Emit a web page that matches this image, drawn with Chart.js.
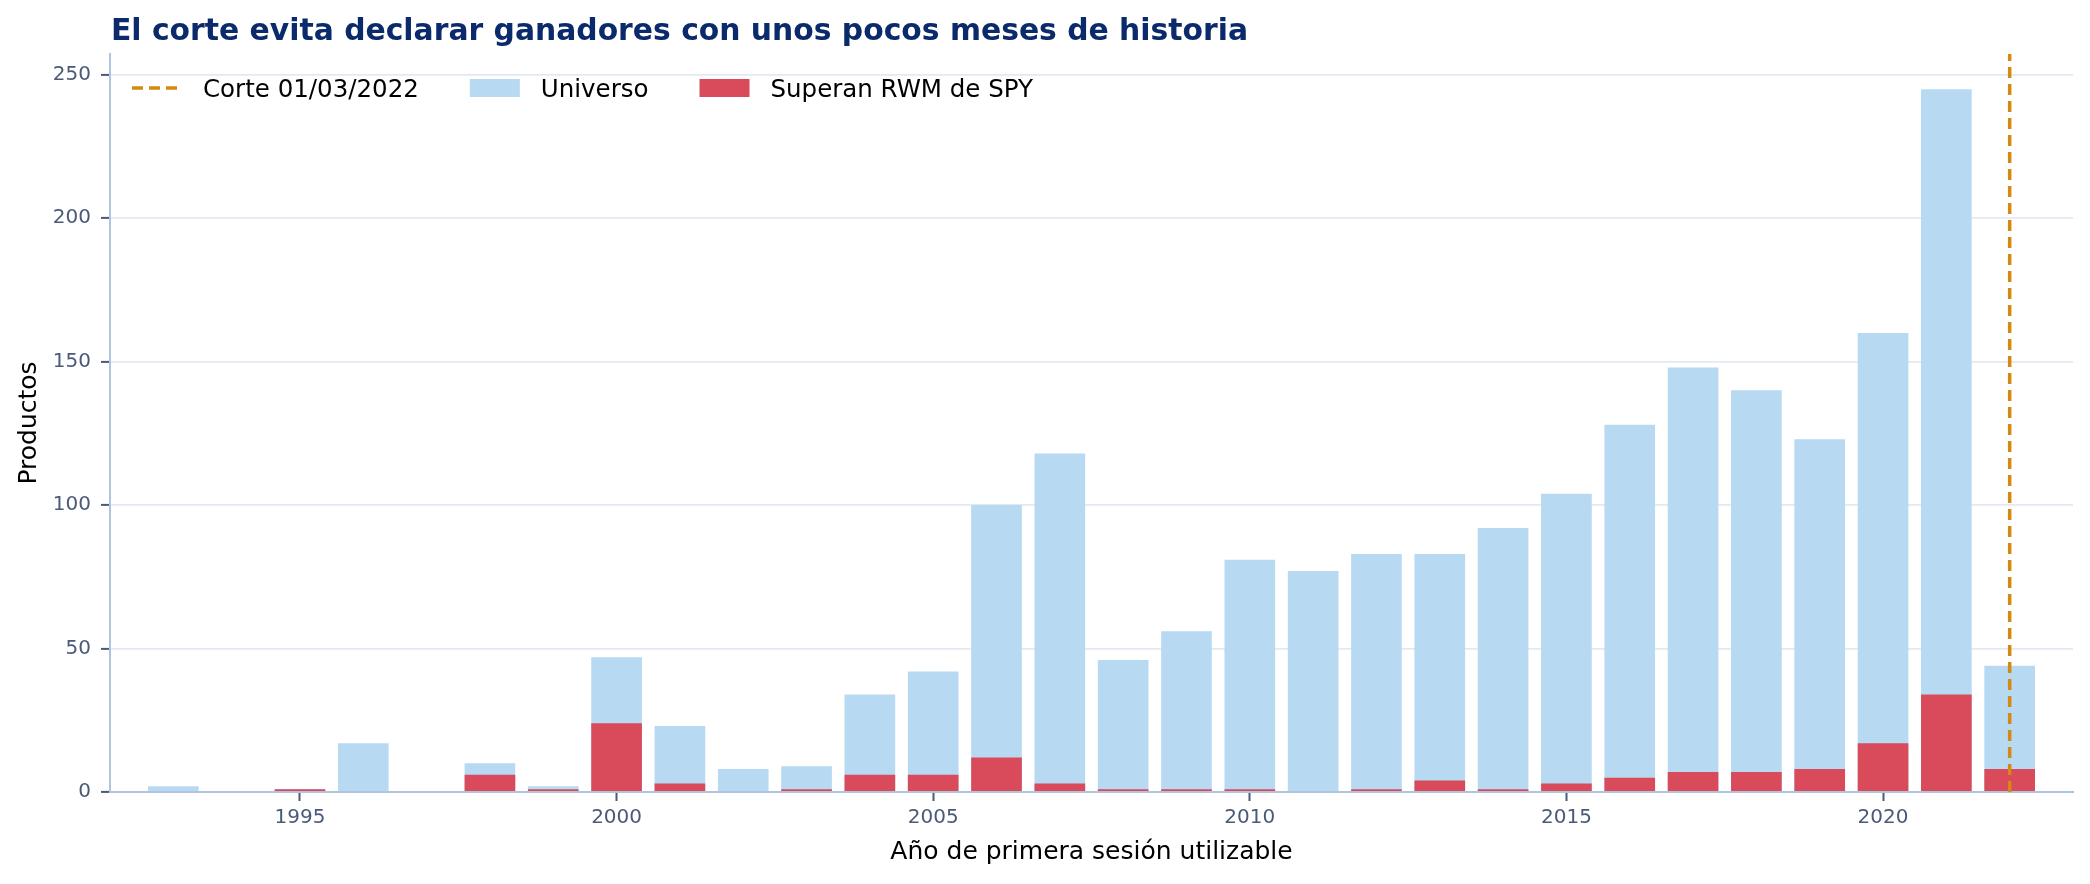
<!DOCTYPE html>
<html>
<head>
<meta charset="utf-8">
<script src="https://cdn.jsdelivr.net/npm/chart.js@4.4.1/dist/chart.umd.min.js"></script>
<style>
  html, body { margin: 0; padding: 0; background: #fff; }
  canvas { display: block; }
</style>
</head>
<body>
<canvas id="productosChart" width="2090" height="884"></canvas>
<script>
// values
const years = [1993, 1994, 1995, 1996, 1997, 1998, 1999, 2000, 2001, 2002,
               2003, 2004, 2005, 2006, 2007, 2008, 2009, 2010, 2011, 2012,
               2013, 2014, 2015, 2016, 2017, 2018, 2019, 2020, 2021, 2022];
const universo = [2, 0, 1, 17, 0, 10, 2, 47, 23, 8,
                  9, 34, 42, 100, 118, 46, 56, 81, 77, 83,
                  83, 92, 104, 128, 148, 140, 123, 160, 245, 44];
const superan = [0, 0, 1, 0, 0, 6, 1, 24, 3, 0,
                 1, 6, 6, 12, 3, 1, 1, 1, 0, 1,
                 4, 1, 3, 5, 7, 7, 8, 17, 34, 8];
const xTicks = [1995, 2000, 2005, 2010, 2015, 2020];
const yTicks = [0, 50, 100, 150, 200, 250];
const cutoffYear = 2022;
const xMin = 1992, xMax = 2023, yMax = 257.25;

const FONT = '"DejaVu Sans", "Noto Sans", sans-serif';
const TICK_COLOR = '#4a5a78';
const BLUE = '#b7d9f2';
const RED = '#d94a5b';
const ORANGE = '#d68910';

const titlePlugin = {
    id: 'leftTitle',
    afterDraw(chart) {
        const ctx = chart.ctx;
        ctx.save();
        ctx.font = 'bold 29.8px ' + FONT;
        ctx.fillStyle = '#0b2a6b';
        ctx.textAlign = 'left';
        ctx.textBaseline = 'alphabetic';
        ctx.fillText('El corte evita declarar ganadores con unos pocos meses de historia', chart.chartArea.left + 1, 40);
        ctx.restore();
    }
};

// legend drawn by hand so the handle / text spacing matches the picture
const legendPlugin = {
    id: 'plainLegend',
    afterDraw(chart) {
        const ctx = chart.ctx;
        const area = chart.chartArea;
        const items = [
            { text: 'Corte 01/03/2022', kind: 'line', color: ORANGE },
            { text: 'Universo', kind: 'box', color: BLUE },
            { text: 'Superan RWM de SPY', kind: 'box', color: RED }
        ];
        let x = area.left + 22;
        const yc = area.top + 34;
        ctx.save();
        ctx.font = '24.5px ' + FONT;
        ctx.textBaseline = 'alphabetic';
        items.forEach(item => {
            if (item.kind === 'line') {
                ctx.strokeStyle = item.color;
                ctx.lineWidth = 3.5;
                ctx.setLineDash([11, 6]);
                ctx.beginPath();
                ctx.moveTo(x, yc);
                ctx.lineTo(x + 50, yc);
                ctx.stroke();
                ctx.setLineDash([]);
            } else {
                ctx.fillStyle = item.color;
                ctx.fillRect(x, yc - 9, 50, 18);
            }
            ctx.fillStyle = '#000';
            ctx.fillText(item.text, x + 71, yc + 9);
            x += 71 + ctx.measureText(item.text).width + 51;
        });
        ctx.restore();
    }
};

const ctx = document.getElementById('productosChart').getContext('2d');

new Chart(ctx, {
    type: 'bar',
    data: {
        datasets: [
            {
                type: 'line',
                label: 'Corte 01/03/2022',
                data: [{ x: cutoffYear, y: 0 }, { x: cutoffYear, y: yMax }],
                borderColor: ORANGE,
                borderWidth: 3.5,
                borderDash: [11, 6],
                pointRadius: 0,
                fill: false,
                order: 0
            },
            {
                label: 'Universo',
                data: years.map((y, i) => ({ x: y, y: universo[i] })),
                backgroundColor: BLUE,
                borderWidth: 0,
                order: 2
            },
            {
                label: 'Superan RWM de SPY',
                data: years.map((y, i) => ({ x: y, y: superan[i] })),
                backgroundColor: RED,
                borderWidth: 0,
                order: 1
            }
        ]
    },
    options: {
        responsive: false,
        devicePixelRatio: 1,
        animation: false,
        grouped: false,
        barPercentage: 0.8,
        categoryPercentage: 1.0,
        layout: {
            padding: { top: 54, right: 17, left: 0, bottom: 0 }
        },
        plugins: {
            legend: { display: false },
            title: { display: false },
            tooltip: { enabled: false }
        },
        scales: {
            x: {
                type: 'linear',
                min: xMin,
                max: xMax,
                offset: false,
                afterBuildTicks: scale => { scale.ticks = xTicks.map(v => ({ value: v })); },
                afterFit: scale => { scale.height = 92; },
                grid: {
                    drawOnChartArea: false,
                    offset: false,
                    tickLength: 9,
                    tickWidth: 2,
                    tickColor: TICK_COLOR
                },
                border: { color: '#b0c4de', width: 2 },
                ticks: {
                    color: TICK_COLOR,
                    font: { family: FONT, size: 20 },
                    padding: 5,
                    maxRotation: 0,
                    callback: v => String(v)
                },
                title: {
                    display: true,
                    text: 'Año de primera sesión utilizable',
                    color: '#000',
                    font: { family: FONT, size: 25 },
                    padding: { top: 0, bottom: 17 }
                }
            },
            y: {
                min: 0,
                max: yMax,
                afterBuildTicks: scale => { scale.ticks = yTicks.map(v => ({ value: v })); },
                afterFit: scale => { scale.width = 110; },
                grid: {
                    color: '#e3e9f3',
                    lineWidth: 1.8,
                    tickLength: 9,
                    tickWidth: 2,
                    tickColor: TICK_COLOR
                },
                border: { color: '#b0c4de', width: 2 },
                ticks: {
                    color: TICK_COLOR,
                    font: { family: FONT, size: 20 },
                    padding: 10
                },
                title: {
                    display: true,
                    text: 'Productos',
                    color: '#000',
                    font: { family: FONT, size: 25 },
                    padding: { top: 14, bottom: 0 }
                }
            }
        }
    },
    plugins: [titlePlugin, legendPlugin]
});
</script>
</body>
</html>
